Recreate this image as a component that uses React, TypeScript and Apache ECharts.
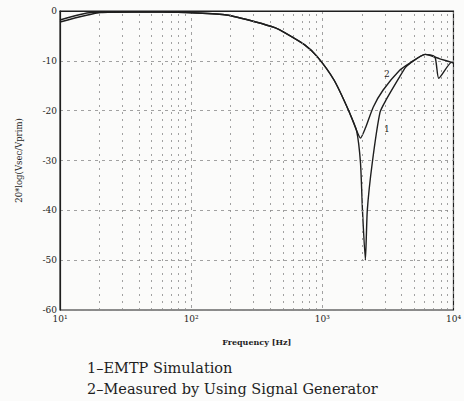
import React, { useEffect, useRef } from "react";
import * as echarts from "echarts";

// Frequency axis ticks (log decades) and their labels
const decadeTicks = [10, 100, 1000, 10000];
const decadeLabels = ["10\u00b9", "10\u00b2", "10\u00b3", "10\u2074"];
const magnitudeTicks = [0, -10, -20, -30, -40, -50, -60];

// Intermediate log grid lines (2..9 within each decade)
const minorGridFreqs = [
  20, 30, 40, 50, 60, 70, 80, 90,
  200, 300, 400, 500, 600, 700, 800, 900,
  2000, 3000, 4000, 5000, 6000, 7000, 8000, 9000,
];

// Curve 1: EMTP simulation
const simFreq = [10, 20.5, 35, 60, 111, 186, 311, 439, 520, 734, 918, 1231, 1589, 1824, 1955, 2024, 2130, 2203, 2403, 2756, 3054, 3889, 4306, 4616, 6079, 7870, 10000];
const simDb = [-2.2, -0.3, -0.2, -0.2, -0.4, -0.8, -2.2, -3.4, -4.4, -6.8, -9.2, -13.9, -20, -24, -30.5, -40, -50, -40, -30.5, -20.3, -17.9, -13.2, -11.3, -10.6, -8.7, -9.6, -10.4];

// Curve 2: measured with a signal generator
const measFreq = [10, 17.3, 35, 60, 111, 186, 311, 439, 520, 734, 918, 1231, 1589, 1795, 1955, 2130, 2443, 2901, 3889, 4616, 6079, 7215, 7727, 9664, 10000];
const measDb = [-1.8, -0.3, -0.2, -0.2, -0.4, -0.8, -2.2, -3.4, -4.4, -6.8, -9.2, -13.9, -20, -23.5, -25.5, -23.5, -19.3, -15.9, -11.9, -10.5, -8.7, -9.2, -13.5, -10.3, -10.4];

const legendLines = ["1\u2013EMTP Simulation", "2\u2013Measured by Using Signal Generator"];

const pair = (xs: number[], ys: number[]) => xs.map((x, i) => [x, ys[i]]);

export default function App() {
  const ref = useRef<HTMLDivElement>(null);

  useEffect(() => {
    if (!ref.current) return;
    const chart = echarts.init(ref.current, null, { renderer: "svg" });
    const ink = "#1e1e1e";
    const gridGray = "#8a8a8a";
    const serif = "DejaVu Serif";

    chart.setOption({
      animation: false,
      backgroundColor: "#fbfbfa",
      grid: {
        left: 60,
        right: 3,
        top: 11,
        bottom: 91,
        show: true,
        borderColor: ink,
        borderWidth: 1.2,
      },
      xAxis: {
        type: "log",
        logBase: 10,
        min: 10,
        max: 10000,
        name: "Frequency [Hz]",
        nameLocation: "middle",
        nameGap: 28,
        nameTextStyle: { fontFamily: serif, fontSize: 8, color: ink, fontWeight: "bold" },
        axisLine: { lineStyle: { color: ink, width: 1.2 } },
        axisTick: { show: false },
        axisLabel: {
          fontFamily: serif,
          fontSize: 9,
          color: ink,
          margin: 4,
          formatter: (v: number) => {
            const i = decadeTicks.findIndex((d) => Math.abs(d - v) / d < 1e-6);
            return i >= 0 ? decadeLabels[i] : "";
          },
        },
        splitLine: { show: true, lineStyle: { color: gridGray, type: [3, 4], width: 0.8 } },
      },
      yAxis: {
        type: "value",
        min: -60,
        max: 0,
        interval: 10,
        name: "20*log(Vsec/Vprim)",
        nameLocation: "middle",
        nameGap: 37,
        nameRotate: 90,
        nameTextStyle: { fontFamily: serif, fontSize: 8.5, color: ink },
        axisLine: { lineStyle: { color: ink, width: 1.2 } },
        axisTick: { show: false },
        axisLabel: {
          fontFamily: serif,
          fontSize: 9,
          color: ink,
          margin: 3,
          formatter: (v: number) => (magnitudeTicks.includes(v) ? String(v) : ""),
        },
        splitLine: { show: true, lineStyle: { color: gridGray, type: [3, 4], width: 0.8 } },
      },
      series: [
        {
          type: "line",
          data: [],
          silent: true,
          markLine: {
            silent: true,
            symbol: "none",
            label: { show: false },
            lineStyle: { color: gridGray, type: [2, 5], width: 0.8 },
            data: minorGridFreqs.map((f) => ({ xAxis: f })),
          },
        },
        {
          name: "1",
          type: "line",
          data: pair(simFreq, simDb),
          smooth: 0.2,
          showSymbol: false,
          lineStyle: { color: ink, width: 1.4 },
        },
        {
          name: "2",
          type: "line",
          data: pair(measFreq, measDb),
          smooth: 0.2,
          showSymbol: false,
          lineStyle: { color: ink, width: 1.4 },
        },
      ],
      graphic: [
        { type: "text", left: 384, top: 69, style: { text: "2", fontFamily: serif, fontSize: 9, fill: ink } },
        { type: "text", left: 384, top: 124, style: { text: "1", fontFamily: serif, fontSize: 9, fill: ink } },
        { type: "text", left: 87, top: 360, style: { text: legendLines[0], fontFamily: serif, fontSize: 14.5, fill: ink } },
        { type: "text", left: 87, top: 381, style: { text: legendLines[1], fontFamily: serif, fontSize: 14.5, fill: ink } },
      ],
    });

    return () => chart.dispose();
  }, []);

  return <div ref={ref} style={{ width: 464, height: 401, position: "absolute", left: 0, top: 0 }} />;
}
